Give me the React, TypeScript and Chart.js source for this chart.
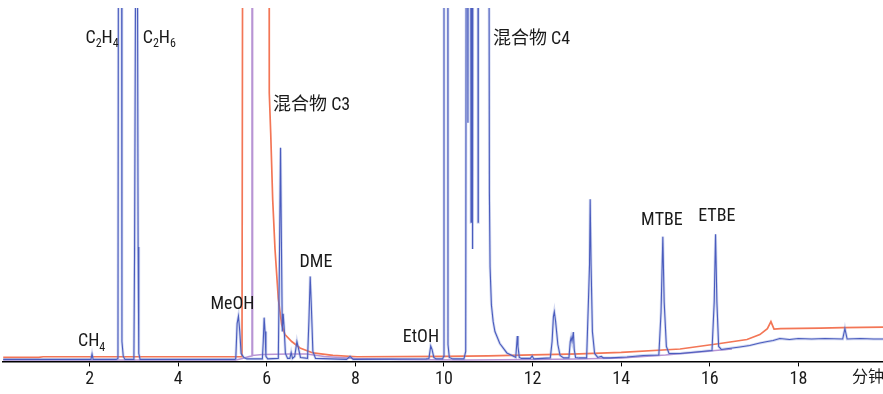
import React, { useEffect, useRef } from "react";
import { Chart, registerables } from "chart.js";

Chart.register(...registerables);

// ---- Data (time in minutes, detector signal in arbitrary units) ----
const blueTime = [
  0.05, 2.0, 2.03, 2.055, 2.08, 2.6, 2.64, 2.655, 2.72, 2.73, 2.76, 2.8,
  2.98, 3.0, 3.015, 3.055, 3.07, 3.095, 3.11, 3.14,
  5.28, 5.3, 5.33, 5.36, 5.39, 5.42, 5.48, 5.55,
  5.9, 5.92, 5.94, 5.96, 5.98, 6.02,
  6.26, 6.285, 6.31, 6.33, 6.35, 6.37, 6.39, 6.42, 6.47,
  6.52, 6.55, 6.58, 6.63, 6.68, 6.72, 6.76,
  6.92, 6.95, 6.98, 7.01, 7.04, 7.1,
  7.8, 7.88, 7.95,
  9.6, 9.66, 9.7, 9.73, 9.77, 9.82,
  9.97, 9.99, 10.0, 10.085, 10.09, 10.12, 10.2,
  10.45, 10.49, 10.505, 10.53, 10.54, 10.55, 10.6, 10.61, 10.62, 10.635, 10.645, 10.655,
  10.765, 10.77, 10.775, 11.01, 11.025, 11.04, 11.07, 11.11, 11.15, 11.26, 11.42, 11.56, 11.62,
  11.655, 11.67, 11.7, 11.75,
  11.95, 11.99, 12.03,
  12.4, 12.44, 12.47, 12.49, 12.52, 12.57, 12.62, 12.7,
  12.82, 12.85, 12.87, 12.89, 12.92, 12.94, 12.97, 13.05, 13.15,
  13.22, 13.26, 13.285, 13.3, 13.32, 13.35, 13.4, 13.47, 13.55, 13.6,
  13.75, 14.13, 14.5,
  14.85, 14.9, 14.94, 14.97, 15.02, 15.08, 15.33, 15.7,
  16.05, 16.1, 16.13, 16.16, 16.2, 16.26, 16.68,
  16.9, 17.13, 17.3, 17.43, 17.58, 17.8, 18.0, 18.3, 18.6,
  19.0, 19.05, 19.1, 19.4, 19.7, 19.91,
];
const blueSignal = [
  2, 2, 2, 7.5, 2, 2, 3, 600, 600, 20, 5, 2,
  2, 3, 110, 600, 600, 115, 8, 2,
  2, 3, 38, 45.5, 30, 8, 4, 2.5,
  2.5, 20, 44, 30, 5, 2.5,
  3, 100, 215, 120, 30, 48, 35, 8, 3,
  3, 9, 3, 5, 20, 12, 4,
  3, 40, 85.5, 50, 10, 3,
  2, 5, 2,
  2.5, 3, 15.5, 12, 4, 2.5,
  2.5, 5, 600, 600, 17, 4, 2.5,
  2.5, 10, 600, 600, 240, 600, 600, 140, 600, 600, 113, 600,
  600, 140, 600, 600, 170, 95, 57, 40, 30, 18, 8.5, 5.5, 4,
  25.5, 15, 4, 3,
  3, 5.5, 2.5,
  3.5, 20, 45, 50, 40, 17, 6, 3.5,
  3.5, 20, 24, 20, 29.5, 12, 4, 3.5, 3.5,
  3.5, 60, 97, 163, 97, 30, 8, 4, 5, 3.5,
  3.5, 4.5, 6,
  6.5, 50, 125.5, 60, 15, 8, 8, 9.5,
  11, 60, 128, 60, 15, 12, 14.5,
  16, 18.5, 20, 21, 23, 22, 23, 22.5, 23,
  22.5, 33, 22.5, 23, 22.5, 22.5,
];

const orangeTime = [
  0.05, 0.85, 0.95, 5.44, 5.46, 6.05, 6.056, 6.088, 6.133, 6.185, 6.26, 6.336,
  6.411, 6.562, 6.749, 7.043, 7.494, 8.036, 10, 11, 12, 13.06, 14, 15.33,
  16.23, 16.84, 17.13, 17.3, 17.38, 17.45, 17.6, 18.5, 19.0, 19.91,
];
const orangeSignal = [
  4, 4, 4.7, 4.7, 600, 600, 270, 230, 163, 113, 63, 37,
  27, 20, 13.5, 8.5, 6, 4.7, 5, 5.5, 6.5, 7.5, 9, 12.5,
  18, 22, 27, 33, 40, 32.5, 33, 33.5, 34, 34.5,
];

const purpleTime = [
  0.05, 5.3, 5.45, 5.6, 5.66, 5.665, 5.675, 5.68, 5.9, 6.5, 6.9, 7.3, 8, 9,
  10.5, 12, 13, 14, 15, 16, 16.5,
];
const purpleSignal = [
  1.5, 1.5, 3, 5, 5.5, 600, 600, 6, 7, 7.5, 7.5, 5, 3, 2,
  1.5, 2, 2.5, 3.5, 6.5, 10.5, 12.5,
];

const tickValues = [2, 4, 6, 8, 10, 12, 14, 16, 18];
const unitLabel = "分钟";
const unitLabelAt = 19.57;

// Peak labels ("_" marks a subscript character)
const peakNames = ["C_2H_4", "C_2H_6", "混合物 C3", "DME", "MeOH", "CH_4", "EtOH", "混合物 C4", "MTBE", "ETBE"];
const peakLabelTime = [1.907, 3.199, 6.14, 7.11, 5.226, 1.738, 9.48, 11.106, 14.92, 16.16];
const peakLabelHeight = [325, 325, 257, 99.5, 57, 20, 24.5, 323.5, 142, 145.5];
const peakLabelAlign = ["left", "left", "left", "center", "center", "left", "center", "left", "center", "center"];

const FONT = "'Liberation Sans Narrow', 'Roboto Condensed', 'DejaVu Sans Condensed', 'Noto Sans CJK SC', sans-serif";

const toPoints = (xs: number[], ys: number[]) => xs.map((x, i) => ({ x, y: ys[i] }));

const labelPlugin = {
  id: "peakLabels",
  afterDatasetsDraw(chart: any) {
    const { ctx, scales } = chart;
    ctx.save();
    ctx.fillStyle = "#1a1a1a";
    ctx.textBaseline = "middle";
    ctx.textAlign = "left";
    peakNames.forEach((name, i) => {
      const segs: { t: string; sub: boolean }[] = [];
      for (let k = 0; k < name.length; k++) {
        if (name[k] === "_" && k + 1 < name.length) {
          segs.push({ t: name[k + 1], sub: true });
          k++;
        } else segs.push({ t: name[k], sub: false });
      }
      const mainFont = `18px ${FONT}`;
      const subFont = `12px ${FONT}`;
      let total = 0;
      segs.forEach((s) => {
        ctx.font = s.sub ? subFont : mainFont;
        total += ctx.measureText(s.t).width;
      });
      let x = scales.x.getPixelForValue(peakLabelTime[i]);
      const y = scales.y.getPixelForValue(peakLabelHeight[i]);
      if (peakLabelAlign[i] === "center") x -= total / 2;
      segs.forEach((s) => {
        ctx.font = s.sub ? subFont : mainFont;
        ctx.fillText(s.t, x, s.sub ? y + 6 : y);
        x += ctx.measureText(s.t).width;
      });
    });
    ctx.restore();
  },
};

export default function App() {
  const canvasRef = useRef<HTMLCanvasElement | null>(null);

  useEffect(() => {
    if (!canvasRef.current) return;
    const chart = new Chart(canvasRef.current, {
      type: "line",
      data: {
        datasets: [
          {
            data: toPoints(blueTime, blueSignal),
            borderColor: "#4a5cbe",
            borderWidth: 1.1,
            pointRadius: 0,
            tension: 0,
          },
          {
            data: toPoints(blueTime, blueSignal),
            borderColor: "rgba(130,145,215,0.35)",
            borderWidth: 2.8,
            pointRadius: 0,
            tension: 0,
          },
          {
            data: toPoints(purpleTime, purpleSignal),
            borderColor: "#b894d4",
            borderWidth: 1.5,
            pointRadius: 0,
            tension: 0,
          },
          {
            data: toPoints(orangeTime, orangeSignal),
            borderColor: "#f37656",
            borderWidth: 1.7,
            pointRadius: 0,
            tension: 0,
          },
        ],
      },
      options: {
        responsive: false,
        animation: false,
        devicePixelRatio: 1,
        layout: { padding: { left: 3, right: 0, top: 8, bottom: 2 } },
        plugins: { legend: { display: false }, tooltip: { enabled: false } },
        scales: {
          x: {
            type: "linear",
            min: 0.045,
            max: 19.91,
            afterBuildTicks: (axis: any) => {
              axis.ticks = [...tickValues, unitLabelAt].map((v) => ({ value: v }));
            },
            afterFit: (axis: any) => {
              axis.paddingLeft = 0;
              axis.paddingRight = 0;
            },
            ticks: {
              autoSkip: false,
              maxRotation: 0,
              padding: 2,
              color: "#1a1a1a",
              font: (c: any) => ({ family: FONT, size: c.tick && c.tick.value === unitLabelAt ? 16 : 18 }),
              callback: (v: any) => (v === unitLabelAt ? unitLabel : String(v)),
            },
            grid: {
              display: true,
              drawOnChartArea: false,
              drawTicks: true,
              tickLength: 5,
              color: (c: any) => (c.tick && c.tick.value === unitLabelAt ? "rgba(0,0,0,0)" : "#000"),
            },
            border: { display: true, color: "#000", width: 1.5 },
          },
          y: {
            display: false,
            min: 0,
            max: 355.5,
          },
        },
      },
      plugins: [labelPlugin],
    });
    return () => chart.destroy();
  }, []);

  return (
    <div style={{ position: "fixed", left: 0, top: 0, width: 883, height: 394, background: "#fff" }}>
      <canvas ref={canvasRef} width={883} height={394} />
    </div>
  );
}
